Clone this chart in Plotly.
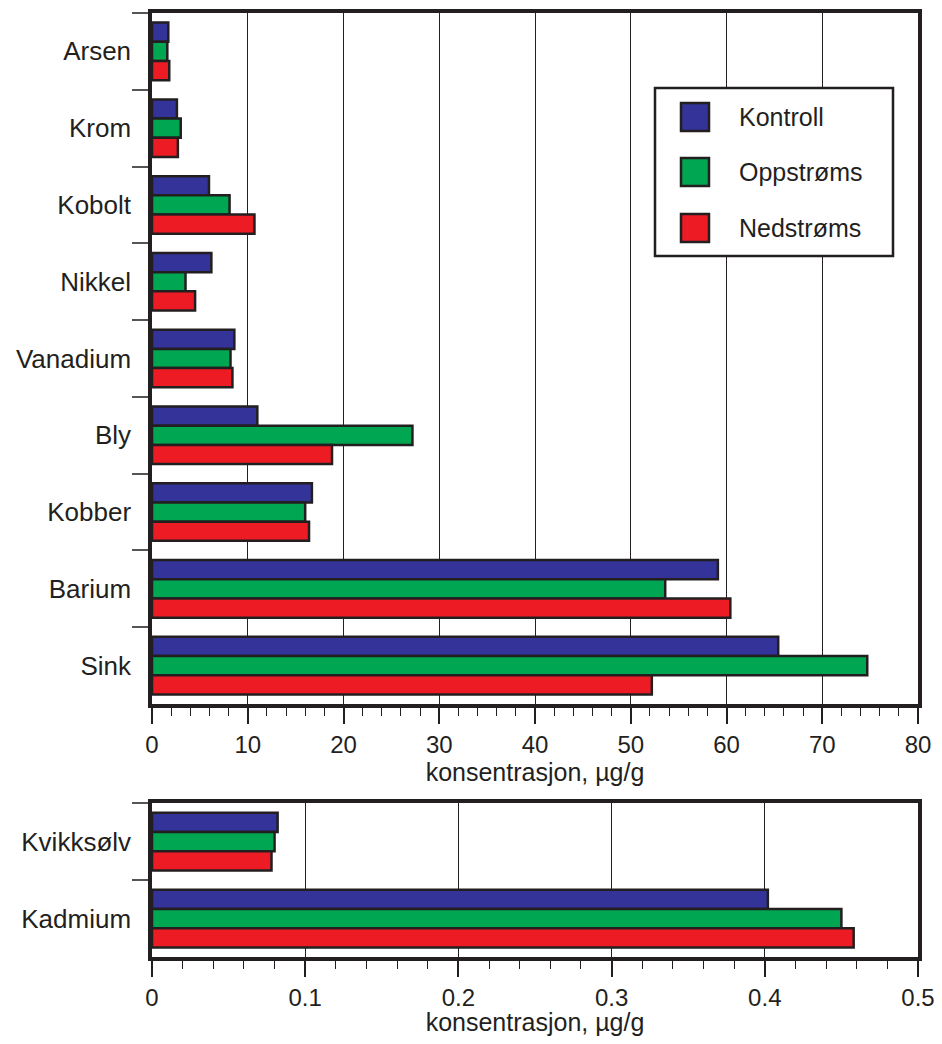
import plotly.graph_objects as go

# ---- data ----
categories_top = ["Arsen", "Krom", "Kobolt", "Nikkel", "Vanadium", "Bly", "Kobber", "Barium", "Sink"]
kontroll_top = [1.7, 2.6, 5.95, 6.2, 8.6, 11.0, 16.7, 59.1, 65.4]
oppstroms_top = [1.6, 3.0, 8.1, 3.5, 8.2, 27.2, 16.0, 53.6, 74.7]
nedstroms_top = [1.8, 2.7, 10.7, 4.5, 8.4, 18.8, 16.4, 60.4, 52.2]

categories_bot = ["Kvikksølv", "Kadmium"]
kontroll_bot = [0.082, 0.402]
oppstroms_bot = [0.080, 0.450]
nedstroms_bot = [0.078, 0.458]

series_names = ["Kontroll", "Oppstrøms", "Nedstrøms"]
series_colors = ["#333399", "#00A651", "#ED1C24"]
x_title = "konsentrasjon, µg/g"

INK = "#231F20"
FONT = "Liberation Sans, Arial, sans-serif"

# page body has an 8px default margin; figure is sized to fit the window
OFF = 8
W, H = 942 - 2 * OFF, 1044 - 2 * OFF
ML, MT = 152 - OFF, 13 - OFF
MR = W - (918 - OFF)
MB = H - (957 - OFF)
plot_h = H - MT - MB
plot_w = W - ML - MR


def py(p):
    return (H - MB - (p - OFF)) / plot_h


def px(p):
    return (p - OFF - ML) / plot_w


fig = go.Figure()
top_vals = [kontroll_top, oppstroms_top, nedstroms_top]
bot_vals = [kontroll_bot, oppstroms_bot, nedstroms_bot]
for name, col, tv, bv in zip(series_names, series_colors, top_vals, bot_vals):
    fig.add_trace(go.Bar(x=tv, y=categories_top, orientation="h", name=name,
                         marker=dict(color=col, line=dict(color=INK, width=2.5)),
                         xaxis="x", yaxis="y", showlegend=False))
    fig.add_trace(go.Bar(x=bv, y=categories_bot, orientation="h", name=name,
                         marker=dict(color=col, line=dict(color=INK, width=2.5)),
                         xaxis="x2", yaxis="y2", showlegend=False))

xcommon = dict(showline=True, linewidth=3.5, linecolor=INK, mirror=True,
               ticks="outside", ticklen=16, tickwidth=1.5, tickcolor=INK,
               showgrid=True, gridcolor=INK, gridwidth=1, zeroline=False,
               automargin=False, ticklabeloverflow="allow",
               tickfont=dict(family=FONT, size=24, color=INK),
               title=dict(text=x_title, font=dict(family=FONT, size=25, color=INK), standoff=8))
ycommon = dict(showline=True, linewidth=3.5, linecolor=INK, mirror=True,
               ticks="outside", ticklen=16, tickwidth=1.5, tickcolor="#555555",
               tickson="boundaries", showgrid=False, zeroline=False,
               automargin=False, autorange="reversed", ticklabelstandoff=12,
               tickfont=dict(family=FONT, size=26, color=INK))

fig.update_layout(
    template="none",
    width=W, height=H,
    margin=dict(l=ML, r=MR, t=MT, b=MB),
    paper_bgcolor="white", plot_bgcolor="white",
    barmode="group", bargap=0.25, bargroupgap=0,
    xaxis=dict(xcommon, domain=[0, 1], anchor="y", range=[0, 80], dtick=10,
               minor=dict(dtick=2, ticks="outside", ticklen=8, tickwidth=1.2, tickcolor=INK, showgrid=False)),
    yaxis=dict(ycommon, domain=[py(704), 1], anchor="x",
               categoryorder="array", categoryarray=categories_top),
    xaxis2=dict(xcommon, domain=[0, 1], anchor="y2", range=[0, 0.5], dtick=0.1,
                minor=dict(dtick=0.02, ticks="outside", ticklen=8, tickwidth=1.2, tickcolor=INK, showgrid=False)),
    yaxis2=dict(ycommon, domain=[0, py(803)], anchor="x2",
                categoryorder="array", categoryarray=categories_bot),
)

# ---- manual legend ----
shapes = [dict(type="rect", xref="paper", yref="paper",
               x0=px(655), x1=px(893), y0=py(256), y1=py(88),
               line=dict(color=INK, width=2.5), fillcolor="white", layer="above")]
annotations = []
row_y = [117, 172, 228]
for name, col, ry in zip(series_names, series_colors, row_y):
    shapes.append(dict(type="rect", xref="paper", yref="paper",
                       x0=px(681), x1=px(709), y0=py(ry + 14), y1=py(ry - 14),
                       line=dict(color=INK, width=2.5), fillcolor=col, layer="above"))
    annotations.append(dict(xref="paper", yref="paper", x=px(737), y=py(ry),
                            xanchor="left", yanchor="middle", showarrow=False,
                            text=name, font=dict(family=FONT, size=25, color=INK)))
fig.update_layout(shapes=shapes, annotations=annotations)

fig.write_html("out.html")
